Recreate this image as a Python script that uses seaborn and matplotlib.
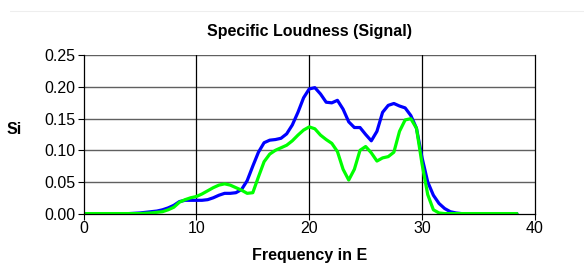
import matplotlib
matplotlib.use("Agg")
import matplotlib.pyplot as plt
import seaborn as sns
import pandas as pd
from matplotlib.lines import Line2D

# Frequency axis (E)
freq = [0, 0.5, 1, 1.5, 2, 2.5, 3, 3.5, 4, 4.5, 5, 5.5, 6, 6.5, 7, 7.5, 8, 8.5, 9, 9.5,
        10, 10.5, 11, 11.5, 12, 12.5, 13, 13.5, 14, 14.5, 15, 15.5, 16, 16.5, 17, 17.5,
        18, 18.5, 19, 19.5, 20, 20.5, 21, 21.5, 22, 22.5, 23, 23.5, 24, 24.5, 25, 25.5,
        26, 26.5, 27, 27.5, 28, 28.5, 29, 29.5, 30, 30.5, 31, 31.5, 32, 32.5, 33, 33.5,
        34, 34.5, 35, 35.5, 36, 36.5, 37, 37.5, 38, 38.4]

blue = [0, 0, 0, 0, 0, 0, 0, 0, 0, 0.0005, 0.001, 0.002, 0.003, 0.004, 0.006, 0.009, 0.013, 0.019, 0.021, 0.021,
        0.021, 0.021, 0.022, 0.025, 0.029, 0.032, 0.032, 0.033, 0.038, 0.052, 0.075, 0.097, 0.112, 0.116, 0.117, 0.119,
        0.126, 0.140, 0.160, 0.183, 0.197, 0.199, 0.189, 0.176, 0.175, 0.179, 0.165, 0.145, 0.136, 0.136, 0.125, 0.115,
        0.130, 0.160, 0.171, 0.174, 0.170, 0.167, 0.155, 0.135, 0.088, 0.050, 0.029, 0.016, 0.008, 0.003, 0.001, 0,
        0, 0, 0, 0, 0, 0, 0, 0, 0, 0]

green = [0, 0, 0, 0, 0, 0, 0, 0, 0, 0, 0, 0.0005, 0.001, 0.002, 0.003, 0.006, 0.010, 0.018, 0.022, 0.025,
         0.027, 0.031, 0.036, 0.041, 0.045, 0.047, 0.045, 0.041, 0.037, 0.032, 0.033, 0.058, 0.082, 0.094, 0.100, 0.104,
         0.108, 0.115, 0.124, 0.132, 0.137, 0.134, 0.124, 0.117, 0.111, 0.098, 0.070, 0.053, 0.070, 0.100, 0.106, 0.096,
         0.083, 0.088, 0.090, 0.097, 0.130, 0.148, 0.150, 0.135, 0.078, 0.030, 0.006, 0.001, 0, 0, 0, 0,
         0, 0, 0, 0, 0, 0, 0, 0, 0, 0]

x_ticks = [0, 10, 20, 30, 40]
y_ticks = [0.00, 0.05, 0.10, 0.15, 0.20, 0.25]

sns.set_style("white")
plt.rcParams['font.family'] = ['Liberation Sans', 'DejaVu Sans']
plt.rcParams['text.color'] = 'black'
plt.rcParams['axes.labelcolor'] = 'black'
plt.rcParams['xtick.color'] = 'black'
plt.rcParams['ytick.color'] = 'black'

fig = plt.figure(figsize=(5.84, 2.65), dpi=100)
ax = fig.add_axes([0.143, 0.194, 0.773, 0.597])

sns.lineplot(x=freq, y=blue, color="#0000ff", linewidth=2.3, ax=ax)
sns.lineplot(x=freq, y=green, color="#00ff00", linewidth=2.3, ax=ax)

ax.set_xlim(0, 40)
ax.set_ylim(0, 0.25)
ax.set_xticks(x_ticks)
ax.set_yticks(y_ticks)
ax.set_yticklabels([f"{v:.2f}" for v in y_ticks])
ax.tick_params(axis='both', direction='out', length=4, width=0.8, color='black',
               labelcolor='black', labelsize=11.5, pad=2, bottom=True, left=True)
ax.tick_params(axis='x', pad=1)

ax.grid(False)
for v in y_ticks[1:]:
    ax.axhline(v, color='#606060', linewidth=1.0, zorder=0)
for v in x_ticks[1:-1]:
    ax.axvline(v, color='black', linewidth=0.9, zorder=0)

for s in ['left', 'bottom', 'right']:
    ax.spines[s].set_visible(True)
    ax.spines[s].set_color('black')
    ax.spines[s].set_linewidth(0.9)
ax.spines['top'].set_visible(False)

ax.set_title("Specific Loudness (Signal)", fontsize=11.5, fontweight='bold', pad=14, color='black')
ax.set_xlabel("Frequency in E", fontsize=11.5, fontweight='bold', labelpad=9, color='black')
ax.set_ylabel("")
fig.text(22 / 584, 1 - 130 / 265, "Si", fontsize=11.5, fontweight='bold', ha='right', va='center',
         color='black')

fig.add_artist(Line2D([10 / 584, 1.0], [1 - 11 / 265, 1 - 11 / 265], color='#eeeeee', linewidth=0.8))

fig.savefig("out.png", dpi=100)
